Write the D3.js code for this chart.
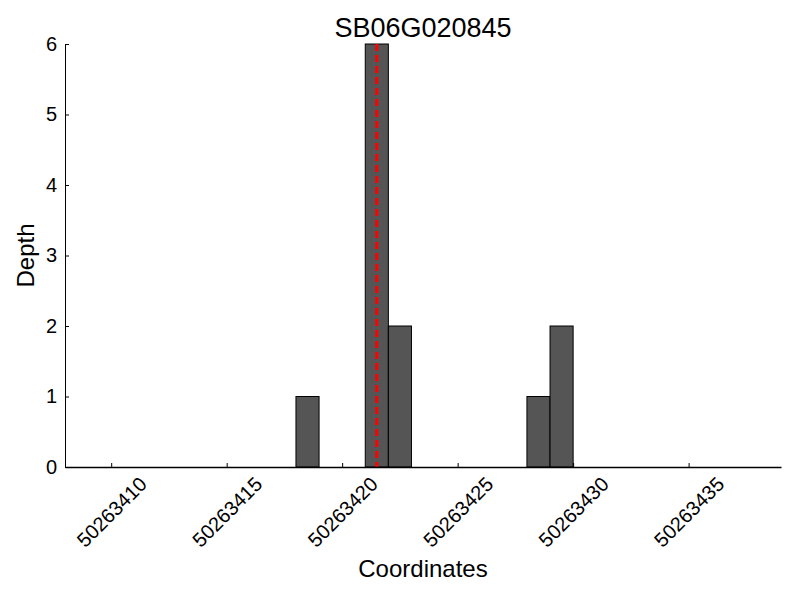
<!DOCTYPE html>
<meta charset="utf-8">
<script src="https://d3js.org/d3.v7.min.js"></script>
<style>
  body { margin: 0; background: #fff; }
  text { font-family: "Liberation Sans", Arial, sans-serif; fill: #000; }
</style>
<div id="vis"></div>
<script>

    // data
    var title = "SB06G020845";
    var positions = [50263418, 50263421, 50263422, 50263428, 50263429];
    var depths = [1, 6, 2, 1, 2];
    var markerPos = 50263421.5;
    var xDomain = [50263408, 50263439];
    var xTicks = [50263410, 50263415, 50263420, 50263425, 50263430, 50263435];
    var yTicks = [0, 1, 2, 3, 4, 5, 6];

    var margin = { top: 44, right: 19, bottom: 133, left: 65 },
        width = 800 - margin.left - margin.right,
        height = 600 - margin.top - margin.bottom;

    var svg = d3.select("#vis")
        .append("svg")
        .attr("width", 800)
        .attr("height", 600);
    var g = svg.append("g")
        .attr("transform", "translate(" + margin.left + "," + margin.top + ")");

    var x = d3.scaleLinear().domain(xDomain).range([0, width]);
    var y = d3.scaleLinear().domain([0, 6]).range([height, 0]);

    var data = positions.map(function (p, i) { return { pos: p, depth: depths[i] }; });

    // bars, each one spans [pos, pos+1]
    g.selectAll(".bar")
        .data(data)
        .enter()
        .append("rect")
        .attr("class", "bar")
        .attr("x", function (d) { return x(d.pos); })
        .attr("y", function (d) { return y(d.depth); })
        .attr("width", function (d) { return x(d.pos + 1) - x(d.pos); })
        .attr("height", function (d) { return y(0) - y(d.depth); })
        .style("fill", "#555555")
        .style("stroke", "#000")
        .style("stroke-width", 1);

    // red dashed marker
    g.append("line")
        .attr("x1", x(markerPos)).attr("x2", x(markerPos))
        .attr("y1", y(6)).attr("y2", y(0))
        .style("stroke", "#ff0000")
        .style("stroke-width", 3)
        .style("stroke-dasharray", "7,4");

    // x axis, ticks pointing inward
    var xAxis = g.append("g")
        .attr("transform", "translate(0," + height + ")")
        .call(d3.axisBottom(x).tickValues(xTicks).tickSize(-4).tickSizeOuter(0).tickFormat(d3.format("d")));
    xAxis.select(".domain").style("stroke-width", 1.5);
    xAxis.selectAll("text")
        .style("font-size", "20px")
        .attr("text-anchor", "middle")
        .attr("dominant-baseline", "central")
        .attr("x", 0).attr("y", 0).attr("dy", null)
        .attr("transform", "translate(0,45) rotate(-45)");

    // y axis
    var yAxis = g.append("g")
        .call(d3.axisLeft(y).tickValues(yTicks).tickSize(-4).tickSizeOuter(0).tickFormat(d3.format("d")));
    yAxis.selectAll("text")
        .style("font-size", "20px")
        .attr("x", -8);

    // titles
    svg.append("text")
        .attr("x", margin.left + width / 2)
        .attr("y", 37)
        .attr("text-anchor", "middle")
        .style("font-size", "27px")
        .text(title);

    svg.append("text")
        .attr("x", margin.left + width / 2)
        .attr("y", 577)
        .attr("text-anchor", "middle")
        .style("font-size", "24px")
        .text("Coordinates");

    svg.append("text")
        .attr("transform", "translate(34," + (margin.top + height / 2) + ") rotate(-90)")
        .attr("text-anchor", "middle")
        .style("font-size", "24px")
        .text("Depth");

</script>
